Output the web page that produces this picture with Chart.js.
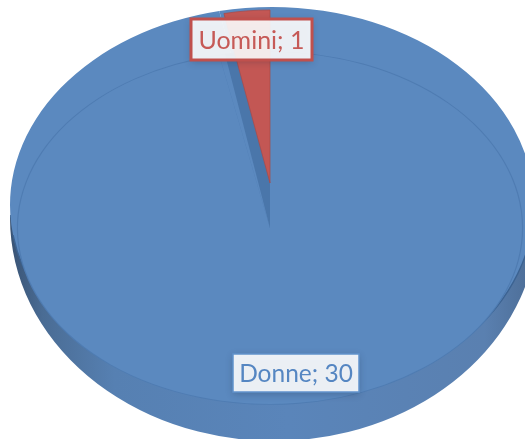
<!DOCTYPE html>
<html>
<head>
<meta charset="utf-8">
<script src="https://cdn.jsdelivr.net/npm/chart.js@4"></script>
<style>
  html, body { margin: 0; padding: 0; background: #fff; }
  #wrap { width: 525px; height: 439px; overflow: hidden; }
</style>
</head>
<body>
<div id="wrap"><canvas id="pie" width="525" height="439"></canvas></div>
<script>
var categories = ["Donne", "Uomini"]
var values = [30, 1]
var faceColours = ["#5b89bf", "#c35754"]
var textColours = ["#5586c2", "#c65a57"]
var labelBorders = ["#6092cc", "#c0504d"]

// squashed pie: one transform per layer
function drawLayer(ctx, chart, arcs, box, style) {
  var first = arcs[0]
  var scaleX = box.rx / first.outerRadius
  var scaleY = box.ry / first.outerRadius
  ctx.save()
  ctx.translate(box.cx, box.cy)
  ctx.scale(scaleX, scaleY)
  ctx.translate(-first.x, -first.y)
  arcs.forEach(el => {
    var old = el.options
    el.options = Object.assign({}, old, style)
    el.draw(ctx)
    el.options = old
  })
  ctx.restore()
}

function drawLabel(ctx, text, box, colour, border, borderWidth, fontSize) {
  ctx.save()
  ctx.shadowColor = "rgba(30,40,60,0.3)"
  ctx.shadowBlur = 7
  ctx.shadowOffsetY = 2
  ctx.fillStyle = "rgba(255,255,255,0.89)"
  ctx.fillRect(box.x, box.y, box.w, box.h)
  ctx.shadowColor = "transparent"
  ctx.strokeStyle = border
  ctx.lineWidth = borderWidth
  ctx.strokeRect(box.x, box.y, box.w, box.h)
  ctx.fillStyle = colour
  ctx.font = fontSize + "px Lato"
  ctx.textAlign = "center"
  ctx.textBaseline = "middle"
  ctx.fillText(text, box.x + box.w / 2, box.y + box.h / 2 + 1)
  ctx.restore()
}

var pie3d = {
  id: "pie3d",
  beforeDatasetsDraw(chart) {
    var ctx = chart.ctx
    var arcs = chart.getDatasetMeta(0).data

    // side wall, only the lower part shows
    var wall = ctx.createLinearGradient(10, 0, 538, 0)
    wall.addColorStop(0, "#24364f")
    wall.addColorStop(0.02, "#2b3f5a")
    wall.addColorStop(0.114, "#4a6c94")
    wall.addColorStop(0.227, "#5680b2")
    wall.addColorStop(0.5, "#5a85ba")
    wall.addColorStop(0.81, "#5a80b0")
    wall.addColorStop(0.91, "#48678e")
    wall.addColorStop(0.966, "#2f4560")
    ctx.save()
    ctx.beginPath()
    ctx.rect(0, 215, 525, 224)
    ctx.clip()
    drawLayer(ctx, chart, arcs, { cx: 274, cy: 218, rx: 264, ry: 223 }, { backgroundColor: wall, borderColor: wall, borderWidth: 0 })
    ctx.restore()

    // top rim
    var rim = { cx: 272, cy: 205, rx: 262, ry: 198 }
    drawLayer(ctx, chart, arcs, rim, { backgroundColor: faceColours[0], borderColor: faceColours[0], borderWidth: 0 })
    ctx.save()
    ctx.beginPath()
    ctx.rect(0, 235, 525, 204)
    ctx.clip()
    drawLayer(ctx, chart, arcs, rim, { backgroundColor: "rgba(0,0,0,0)", borderColor: "#3c6392", borderWidth: 1.2 })
    ctx.restore()

    // inner face: faint ring first, the fill hides the radial edges of the stroke
    var inner = { cx: 270, cy: 228, rx: 252, ry: 176 }
    drawLayer(ctx, chart, arcs, inner, { backgroundColor: "rgba(0,0,0,0)", borderColor: "#4f7cb2", borderWidth: 2 })
    drawLayer(ctx, chart, arcs, inner, { backgroundColor: faceColours[0], borderColor: faceColours[0], borderWidth: 0 })

    // raised slice: dark flank then red face
    drawLayer(ctx, chart, [arcs[1]], { cx: 270, cy: 228, rx: 224, ry: 178 }, { backgroundColor: "#4a76aa", borderColor: "#4a76aa", borderWidth: 0 })
    drawLayer(ctx, chart, [arcs[1]], { cx: 270, cy: 183, rx: 229, ry: 173 }, { backgroundColor: faceColours[1], borderColor: "#a84a48", borderWidth: 0.8 })
    return false
  },
  afterDraw(chart) {
    var ctx = chart.ctx
    drawLabel(ctx, categories[1] + "; " + values[1], { x: 191, y: 19, w: 121, h: 41 }, textColours[1], labelBorders[1], 3, 25)
    drawLabel(ctx, categories[0] + "; " + values[0], { x: 233, y: 354, w: 126, h: 38 }, textColours[0], labelBorders[0], 1.5, 24.5)
  }
}

new Chart(document.getElementById("pie"), {
  type: "pie",
  data: {
    labels: categories,
    datasets: [{ data: values, backgroundColor: faceColours, borderWidth: 0 }]
  },
  options: {
    responsive: false,
    animation: false,
    events: [],
    plugins: {
      legend: { display: false },
      tooltip: { enabled: false }
    }
  },
  plugins: [pie3d]
})
</script>
</body>
</html>
